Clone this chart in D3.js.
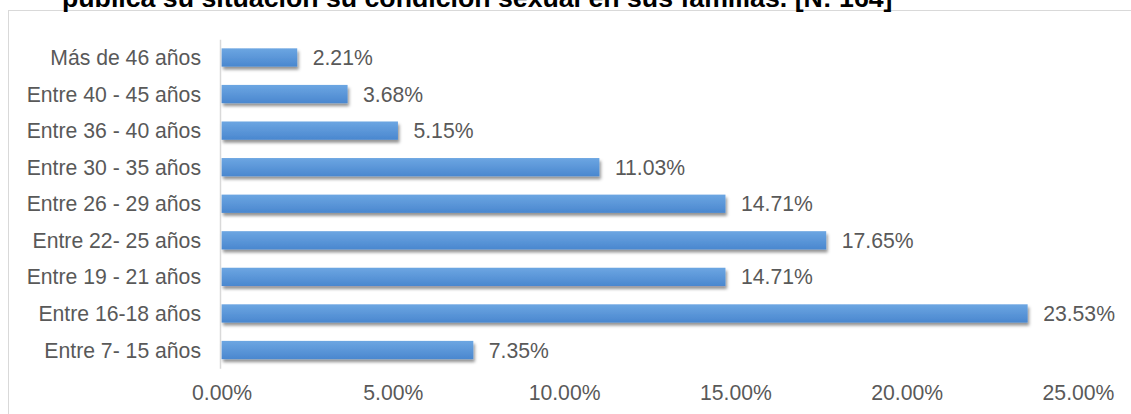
<!DOCTYPE html>
<html>
<head>
<meta charset="utf-8">
<script src="https://cdn.jsdelivr.net/npm/d3@7"></script>
<style>
  html, body { margin: 0; padding: 0; background: #fff; }
  svg { display: block; }
  text { font-family: "Liberation Sans", Arial, sans-serif; }
</style>
</head>
<body>
<svg id="chart" width="1131" height="414"></svg>
<script>
const titleText = "pública su situación su condición sexual en sus familias. [N: 164]";
const categories = [
  "Entre 7- 15 años",
  "Entre 16-18 años",
  "Entre 19 - 21 años",
  "Entre 22- 25 años",
  "Entre 26 - 29 años",
  "Entre 30 - 35 años",
  "Entre 36 - 40 años",
  "Entre 40 - 45 años",
  "Más de 46 años"
];
const values = [0.0735, 0.2353, 0.1471, 0.1765, 0.1471, 0.1103, 0.0515, 0.0368, 0.0221];
const xTicks = [0, 0.05, 0.10, 0.15, 0.20, 0.25];

const svg = d3.select("#chart");
const fontSize = 21.2;
const textColor = "#595959";

const defs = svg.append("defs");
const grad = defs.append("linearGradient").attr("id", "barGrad")
  .attr("x1", 0).attr("y1", 0).attr("x2", 0).attr("y2", 1);
grad.append("stop").attr("offset", "0%").attr("stop-color", "#6ca6e2");
grad.append("stop").attr("offset", "100%").attr("stop-color", "#4a87cf");
const filt = defs.append("filter").attr("id", "shadow")
  .attr("x", "-5%").attr("y", "-30%").attr("width", "115%").attr("height", "180%");
filt.append("feDropShadow").attr("dx", 1.5).attr("dy", 3).attr("stdDeviation", 1.8)
  .attr("flood-color", "#000").attr("flood-opacity", 0.42);

// chart frame
svg.append("rect")
  .attr("x", 8.5).attr("y", 10.5).attr("width", 1200).attr("height", 600)
  .attr("fill", "#fff").attr("stroke", "#d9d9d9").attr("stroke-width", 1);

// title (clipped at top as in reference)
svg.append("text")
  .attr("x", 62).attr("y", 6.5)
  .attr("font-size", 26.7).attr("font-weight", "bold").attr("fill", "#000")
  .text(titleText);

const x = d3.scaleLinear().domain([0, 0.25]).range([221.5, 1078]);
const y = d3.scaleBand()
  .domain(categories.slice().reverse())
  .range([39.2, 368.3])
  .paddingInner(0.5).paddingOuter(0.25);

// bars
svg.append("g").selectAll("rect")
  .data(categories.map((c, i) => ({ c, v: values[i] })))
  .join("rect")
  .attr("x", x(0))
  .attr("y", d => y(d.c))
  .attr("width", d => x(d.v) - x(0))
  .attr("height", y.bandwidth())
  .attr("fill", "url(#barGrad)")
  .attr("filter", "url(#shadow)");

// value labels
svg.append("g").selectAll("text")
  .data(categories.map((c, i) => ({ c, v: values[i] })))
  .join("text")
  .attr("x", d => x(d.v) + 15.5)
  .attr("y", d => y(d.c) + y.bandwidth() / 2 + 0.358 * fontSize)
  .attr("font-size", fontSize)
  .attr("fill", textColor)
  .text(d => d3.format(".2%")(d.v));

// y axis
const yAxis = svg.append("g")
  .attr("transform", `translate(${x(0) - 1.5},0)`)
  .call(d3.axisLeft(y).tickSize(0).tickPadding(19));
yAxis.select(".domain").attr("stroke", "#d9d9d9").attr("stroke-width", 1.5);
yAxis.selectAll("text")
  .attr("font-size", fontSize).attr("fill", textColor)
  .attr("font-family", "'Liberation Sans', Arial, sans-serif")
  .attr("dy", null)
  .attr("y", 0.358 * fontSize);

// x axis
const xAxis = svg.append("g")
  .attr("transform", `translate(0,368.3)`)
  .call(d3.axisBottom(x).tickValues(xTicks).tickFormat(d3.format(".2%")).tickSize(0).tickPadding(17));
xAxis.select(".domain").remove();
xAxis.selectAll("text")
  .attr("font-size", fontSize).attr("fill", textColor)
  .attr("font-family", "'Liberation Sans', Arial, sans-serif");
</script>
</body>
</html>
